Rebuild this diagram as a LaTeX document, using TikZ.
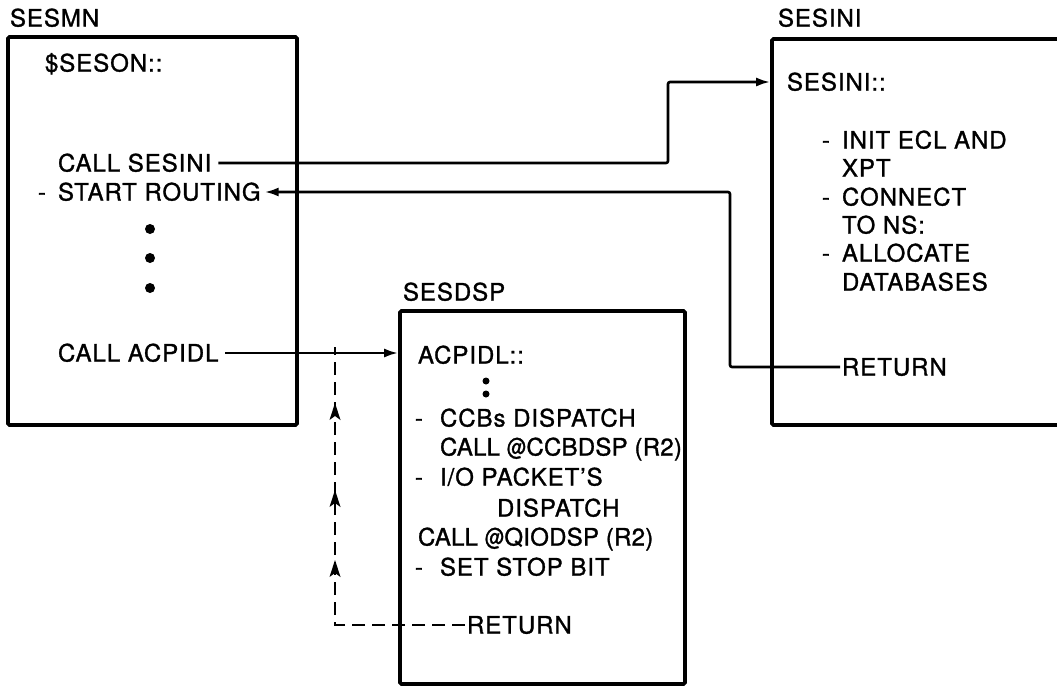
\documentclass[tikz,border=0pt]{standalone}
\usepackage{fontspec}
\setmainfont[LetterSpace=4,FakeBold=1.2]{TeX Gyre Heros}
\usetikzlibrary{arrows.meta,calc}
\newcommand\narrowat{\scalebox{0.8}[1]{@}}
\newcommand\uphead[1]{\fill ([yshift=#1]dc) -- ([xshift=-5.5pt,yshift=#1-17pt]dc) -- ([yshift=#1-13pt]dc) -- ([xshift=5.5pt,yshift=#1-17pt]dc) -- cycle;}
\begin{document}
\begin{tikzpicture}[x=1pt,y=-1pt,
  box/.style={draw, line width=3.6pt, rounded corners=1.5pt, outer sep=0pt, inner sep=0pt, anchor=north west},
  txt/.style={anchor=west, inner sep=0pt, outer sep=0pt, font=\fontsize{24}{28}\selectfont, text height=17pt, text depth=0pt},
  tight/.style={font=\fontsize{24}{28}\selectfont\addfontfeature{LetterSpace=1}},
  conn/.style={line width=2.6pt, rounded corners=2pt},
  tip/.style={-{Latex[length=14pt,width=9pt]}},
  bigdot/.style={circle, fill, inner sep=0pt, minimum size=10pt},
  smalldot/.style={circle, fill, inner sep=0pt, minimum size=7pt}]
\useasboundingbox (0,0) rectangle (1057,686);
\begin{scope}
\clip (0,0) rectangle (1057,686);
% boxes
\node[box, minimum width=289pt, minimum height=388pt] (mnbox) at (8,37) {};
\node[box, minimum width=340pt, minimum height=386pt] (inibox) at (772,39) {};
\node[box, minimum width=285pt, minimum height=373pt] (dspbox) at (400,311) {};
% titles
\node[txt] (mnlbl) at (10,18) {SESMN};
\node[txt] (inilbl) at (778,18) {SESINI};
\node[txt] (dsplbl) at (403,292) {SESDSP};
% SESMN content
\node[txt] (seson) at (45,63) {\$SESON::};
\node[txt] (callsesini) at (58,163) {CALL SESINI};
\node[txt] (startr) at (38,192) {\makebox[20pt][l]{-}START ROUTING};
\node[bigdot] (d1) at (150,229) {};
\node[bigdot] (d2) at (150,258) {};
\node[bigdot] (d3) at (150,288) {};
\node[txt] (callacp) at (58,353) {CALL ACPIDL};
% SESINI content
\node[txt] (inicolon) at (787,82) {SESINI::};
\node[txt] (i1) at (822,140) {\makebox[20pt][l]{-}INIT ECL AND};
\node[txt] (i2) at (842,168) {XPT};
\node[txt] (i3) at (822,197) {\makebox[20pt][l]{-}CONNECT};
\node[txt] (i4) at (842,225) {TO NS:};
\node[txt] (i5) at (822,253) {\makebox[20pt][l]{-}ALLOCATE};
\node[txt] (i6) at (842,282) {DATABASES};
\node[txt] (iniret) at (842,367) {RETURN};
% SESDSP content
\node[txt] (acpcolon) at (418,355) {ACPIDL::};
\node[smalldot] (sd1) at (486,381) {};
\node[smalldot] (sd2) at (486,394) {};
\node[txt] (s1) at (415,418) {\makebox[25pt][l]{-}CCBs DISPATCH};
\node[txt,tight] (s2) at (440,447) {CALL \narrowat CCBDSP (R2)};
\node[txt] (s3) at (415,477) {\makebox[25pt][l]{-}I/O PACKET’S};
\node[txt] (s4) at (497,508) {DISPATCH};
\node[txt,tight] (s5) at (418,537) {CALL \narrowat QIODSP (R2)};
\node[txt] (s6) at (415,567) {\makebox[25pt][l]{-}SET STOP BIT};
\node[txt] (dspret) at (467,625) {RETURN};
% turning points
\coordinate (t1) at (668,0);
\coordinate (t2) at (730,0);
\coordinate (t3) at (335,0);
\coordinate (dc) at (t3 |- dspret.west);
% connectors
\draw[conn,tip,shorten >=1.8pt] ([xshift=7pt]callsesini.east) -| (t1 |- inicolon.west) -- (inibox.west |- inicolon.west);
\draw[conn,tip] ([xshift=-2pt]iniret.west) -| (t2 |- startr.east) -- ([xshift=4pt]startr.east);
\draw[conn,tip,shorten >=1.8pt] ([xshift=7pt]callacp.east) -- (dspbox.west |- callacp.east);
\draw[conn, rounded corners=0pt, dash pattern=on 13pt off 7pt]
  ([xshift=-2pt]dspret.west) -- (dc) -- ([yshift=6pt]t3 |- callacp.east);
\uphead{65pt}
\uphead{135pt}
\uphead{222pt}
\end{scope}
\end{tikzpicture}
\end{document}
